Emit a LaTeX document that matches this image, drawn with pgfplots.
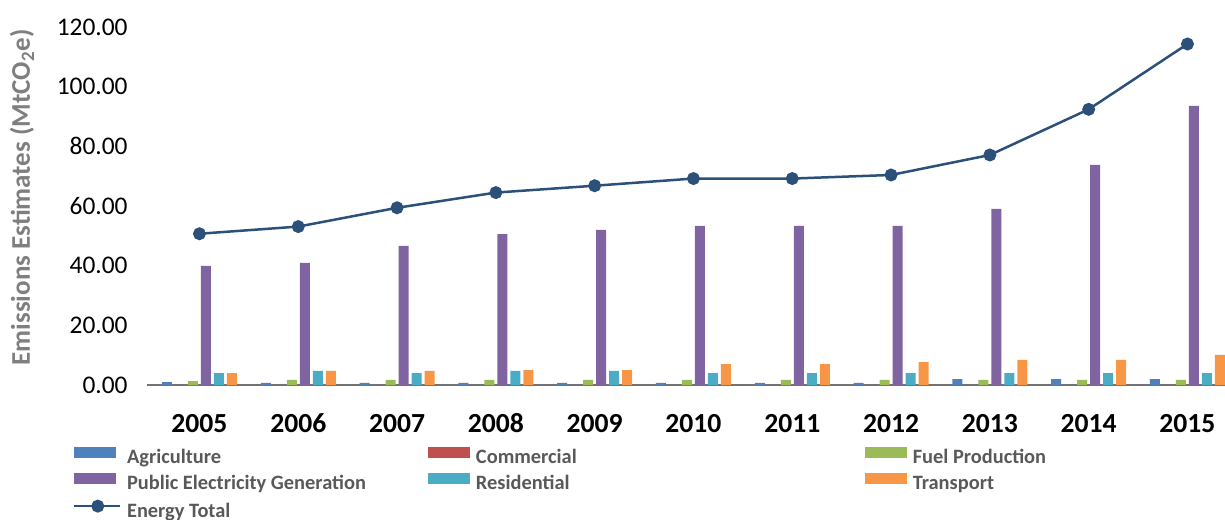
\documentclass[border=0pt]{standalone}
\usepackage{pgfplots}
\usepackage{pgfplotstable}
\pgfplotsset{compat=1.18}
\usepackage{fontspec}
\setmainfont{Carlito}

\definecolor{agri}{HTML}{4F81BD}
\definecolor{comm}{HTML}{C0504D}
\definecolor{fuel}{HTML}{9BBB59}
\definecolor{pubel}{HTML}{8064A2}
\definecolor{resi}{HTML}{4BACC6}
\definecolor{trans}{HTML}{F79646}
\definecolor{total}{RGB}{43,80,122}
\definecolor{legtext}{HTML}{595959}
\definecolor{labtext}{HTML}{7F7F7F}

\pgfplotsset{
  barlegend/.style={legend image code/.code={\fill[##1] (0pt,0.25pt) rectangle (21pt,5.75pt);}},
  linelegend/.style={legend image code/.code={%
    \draw[##1, mark=none] (0pt,3pt) -- (23pt,3pt);
    \fill[total] (12pt,3pt) circle (2.6pt);}},
}

% x: 0 = 2005 ... 10 = 2015
\pgfplotstableread{
x  agri comm fuel pub  res trans total
0  1.0  0    1.3  39.9 4.0 4.0   50.7
1  0.7  0    1.7  40.9 4.7 4.7   53.1
2  0.7  0    1.7  46.6 4.0 4.7   59.4
3  0.7  0    1.7  50.6 4.7 5.0   64.5
4  0.7  0    1.7  52.0 4.7 5.0   66.8
5  0.7  0    1.7  53.3 4.0 7.0   69.2
6  0.7  0    1.7  53.3 4.0 7.0   69.2
7  0.7  0    1.7  53.3 4.0 7.7   70.4
8  2.0  0    1.7  59.0 4.0 8.4   77.1
9  2.0  0    1.7  73.8 4.0 8.4   92.4
10 2.0  0    1.7  93.6 4.0 10.1  114.3
}\emis

\begin{document}
\begin{tikzpicture}
\begin{axis}[
  scale only axis,
  width=539pt, height=179pt,
  xmin=-0.531, xmax=10.38,
  ymin=0, ymax=120,
  axis x line*=bottom,
  axis y line*=left,
  y axis line style={draw=none},
  x axis line style={draw=black!55, line width=1pt},
  xtick={0,...,10},
  xticklabels={2005,2006,2007,2008,2009,2010,2011,2012,2013,2014,2015},
  xticklabel style={font=\fontsize{13.8}{14}\selectfont\bfseries, anchor=north, inner sep=0pt, yshift=-10pt},
  ytick={0,20,...,120},
  yticklabel style={font=\fontsize{12.7}{13}\selectfont, anchor=east, inner sep=0pt, xshift=-9.5pt},
  /pgf/number format/.cd, fixed, fixed zerofill, precision=2, assume math mode=true,
  /pgfplots/.cd,
  tick style={draw=none},
  ylabel={Emissions Estimates (MtCO\textsubscript{2}e)},
  every axis y label/.style={at={(axis description cs:-0.116,0.524)}, rotate=90, anchor=center,
    font=\fontsize{13.5}{14}\selectfont\bfseries, text=labtext},
  ybar, bar width=5pt,
  legend columns=3,
  legend style={draw=none, fill=none, at={(axis description cs:-0.075,-0.16)}, anchor=north west,
    font=\fontsize{10.2}{11}\selectfont\bfseries, text=legtext,
    nodes={inner sep=0pt, text height=7pt, text depth=2pt},
    row sep=3pt,
    /tikz/every odd column/.style={column sep=3pt},
    /tikz/column 2/.style={column sep=31pt},
    /tikz/column 4/.style={column sep=144pt},
    legend cell align=left},
  barlegend,
]
\addplot[fill=agri, draw=none, bar shift=-16.25pt] table[x=x, y=agri] {\emis};
\addlegendentry{Agriculture}
\addplot[fill=comm, draw=none, bar shift=-9.75pt] table[x=x, y=comm] {\emis};
\addlegendentry{Commercial}
\addplot[fill=fuel, draw=none, bar shift=-3.25pt] table[x=x, y=fuel] {\emis};
\addlegendentry{Fuel Production}
\addplot[fill=pubel, draw=none, bar shift=3.25pt] table[x=x, y=pub] {\emis};
\addlegendentry{Public Electricity Generation}
\addplot[fill=resi, draw=none, bar shift=9.75pt] table[x=x, y=res] {\emis};
\addlegendentry{Residential}
\addplot[fill=trans, draw=none, bar shift=16.25pt] table[x=x, y=trans] {\emis};
\addlegendentry{Transport}
\addplot[sharp plot, draw=total, line width=1.25pt, mark=*, mark size=2.6pt,
  mark options={fill=total, draw=total}, linelegend]
  table[x=x, y=total] {\emis};
\addlegendentry{Energy Total}
\end{axis}
\pgfresetboundingbox
\useasboundingbox (-73.5pt,-67pt) rectangle (539pt,192.5pt);
\end{tikzpicture}
\end{document}
